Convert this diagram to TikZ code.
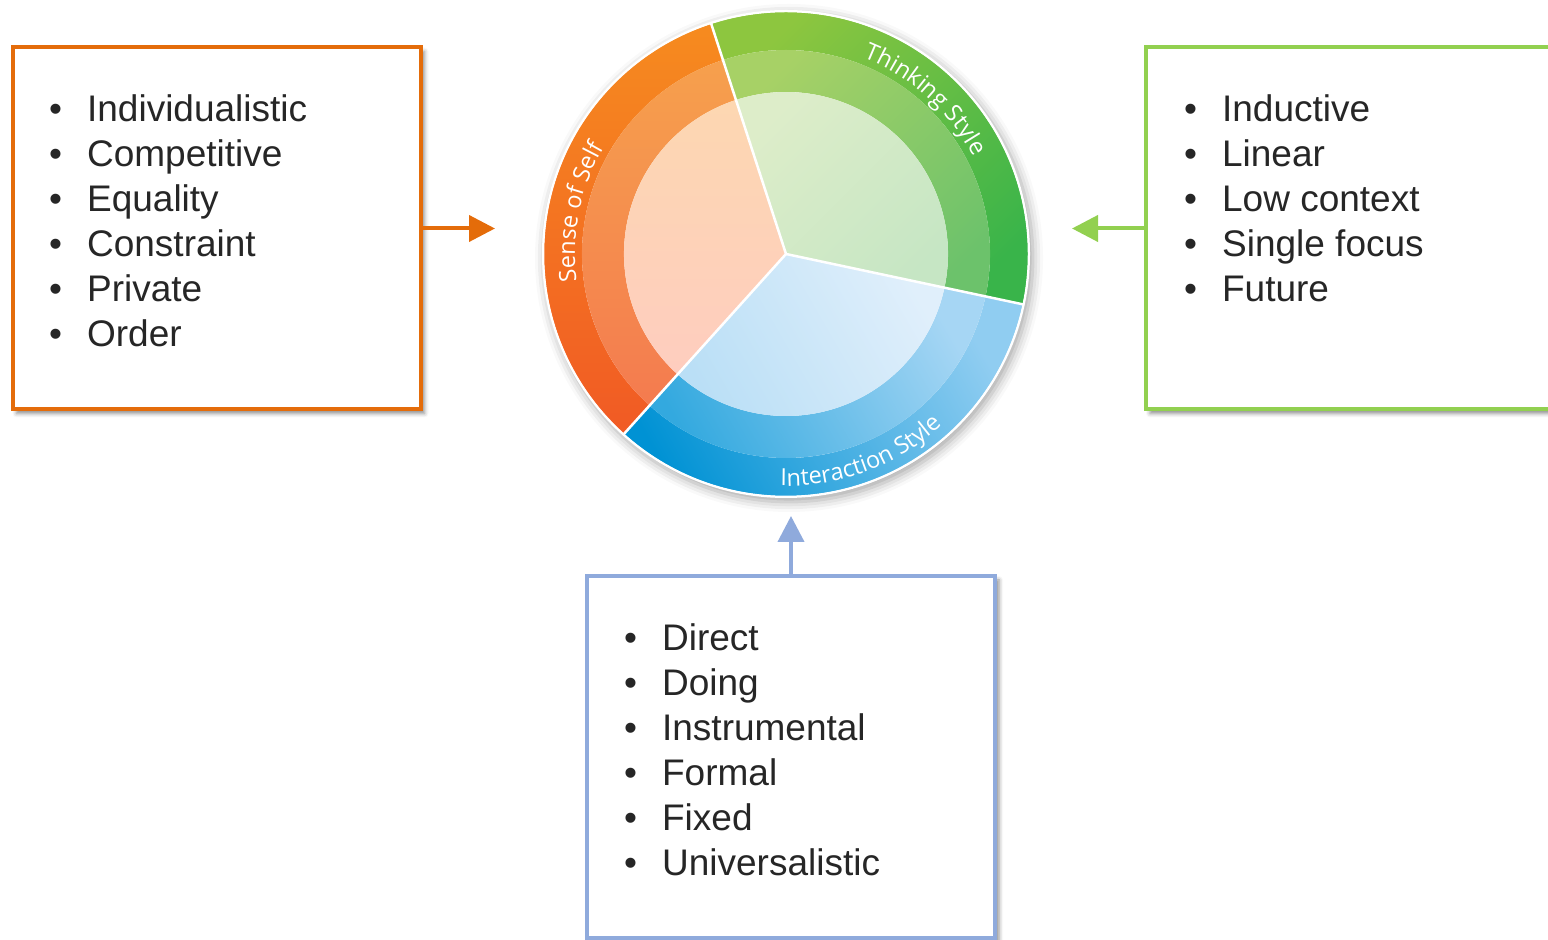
\documentclass[tikz,border=0pt]{standalone}
\usepackage{fontspec}
\setmainfont{Liberation Sans}
\newfontfamily\wheelfont{Open Sans}
\usetikzlibrary{arrows.meta,shadows.blur,decorations.text,positioning}

\definecolor{selforange}{HTML}{E46C0A}
\definecolor{thinkgreen}{HTML}{92D050}
\definecolor{talkblue}{HTML}{8FAADC}
\definecolor{listgray}{HTML}{262626}

\begin{document}
\begin{tikzpicture}[x=1pt, y=1pt,
    listbox/.style={draw=#1, line width=4pt, fill=white,
        minimum width=408pt, minimum height=362pt,
        blur shadow={shadow xshift=4pt, shadow yshift=-4pt,
            shadow blur radius=4pt, shadow opacity=45}},
    listtext/.style={anchor=base west, inner sep=0pt, text=listgray,
        font=\fontsize{37}{45}\selectfont},
    feed/.style={draw=#1, line width=4pt,
        -{Triangle[length=26pt, width=26pt]}},
    rim/.style={line width=2.5pt, white}]
    \clip (0,0) rectangle (1548,940);

    % three boxes
    \node[listbox=selforange] (self) at (216.5, 711.5) {};
    \node[listbox=thinkgreen] (think) at (1350, 711.5) {};
    \node[listbox=talkblue] (talk) at (791, 183) {};

    \node[listtext] (selflist) at (49, 818) {\begin{tabular}[t]{@{}l@{\hspace{25pt}}l@{}}
        \textbullet & Individualistic\\
        \textbullet & Competitive\\
        \textbullet & Equality\\
        \textbullet & Constraint\\
        \textbullet & Private\\
        \textbullet & Order
    \end{tabular}};
    \node[listtext] (thinklist) at (1184, 818) {\begin{tabular}[t]{@{}l@{\hspace{25pt}}l@{}}
        \textbullet & Inductive\\
        \textbullet & Linear\\
        \textbullet & Low context\\
        \textbullet & Single focus\\
        \textbullet & Future
    \end{tabular}};
    \node[listtext] (talklist) at (624, 289) {\begin{tabular}[t]{@{}l@{\hspace{25pt}}l@{}}
        \textbullet & Direct\\
        \textbullet & Doing\\
        \textbullet & Instrumental\\
        \textbullet & Formal\\
        \textbullet & Fixed\\
        \textbullet & Universalistic
    \end{tabular}};

    % the wheel
    \coordinate (wheel) at (786, 686);
    \fill[white, blur shadow={shadow xshift=3pt, shadow yshift=-4pt,
        shadow blur radius=10pt, shadow opacity=35}] (wheel) circle (244);
    \begin{scope}[shift={(wheel)}]
        \shade[top color={rgb,255:red,246;green,139;blue,31}, bottom color={rgb,255:red,241;green,90;blue,36}]
            (108:242) arc[start angle=108, end angle=228, radius=242]
            -- (228:204) arc[start angle=228, end angle=108, radius=204] -- cycle;
        \shade[top color={rgb,255:red,246;green,160;blue,77}, bottom color={rgb,255:red,244;green,123;blue,79}]
            (108:204) arc[start angle=108, end angle=228, radius=204]
            -- (228:162) arc[start angle=228, end angle=108, radius=162] -- cycle;
        \shade[top color={rgb,255:red,253;green,215;blue,177}, bottom color={rgb,255:red,254;green,205;blue,191}]
            (0,0) -- (108:162) arc[start angle=108, end angle=228, radius=162] -- cycle;

        \shade[top color={rgb,255:red,141;green,198;blue,63}, bottom color={rgb,255:red,57;green,180;blue,74}, shading angle=45]
            (-12:242) arc[start angle=-12, end angle=108, radius=242]
            -- (108:204) arc[start angle=108, end angle=-12, radius=204] -- cycle;
        \shade[top color={rgb,255:red,167;green,209;blue,102}, bottom color={rgb,255:red,108;green,194;blue,107}, shading angle=45]
            (-12:204) arc[start angle=-12, end angle=108, radius=204]
            -- (108:162) arc[start angle=108, end angle=-12, radius=162] -- cycle;
        \shade[top color={rgb,255:red,221;green,237;blue,201}, bottom color={rgb,255:red,198;green,230;blue,196}, shading angle=45]
            (0,0) -- (-12:162) arc[start angle=-12, end angle=108, radius=162] -- cycle;

        \shade[top color={rgb,255:red,144;green,205;blue,241}, bottom color={rgb,255:red,0;green,146;blue,212}, shading angle=-60]
            (228:242) arc[start angle=228, end angle=348, radius=242]
            -- (348:204) arc[start angle=348, end angle=228, radius=204] -- cycle;
        \shade[top color={rgb,255:red,166;green,214;blue,244}, bottom color={rgb,255:red,51;green,169;blue,223}, shading angle=-60]
            (228:204) arc[start angle=228, end angle=348, radius=204]
            -- (348:162) arc[start angle=348, end angle=228, radius=162] -- cycle;
        \shade[top color={rgb,255:red,224;green,239;blue,251}, bottom color={rgb,255:red,186;green,223;blue,246}, shading angle=-60]
            (0,0) -- (228:162) arc[start angle=228, end angle=348, radius=162] -- cycle;

        \draw[rim] (0,0) -- (108:243);
        \draw[rim] (0,0) -- (228:243);
        \draw[rim] (0,0) -- (348:243);
        \draw[white, line width=1.5pt] (0,0) circle (242.5);

        \path[decorate, decoration={text along path, text align=center, text color=white,
            text={|\wheelfont\fontsize{23.5}{23.5}\selectfont|Sense of Self}}]
            (200:211) arc[start angle=200, end angle=137, radius=211];
        \path[decorate, decoration={text along path, text align=center, text color=white,
            text={|\wheelfont\fontsize{23.5}{23.5}\selectfont|Thinking Style}}]
            (80:211) arc[start angle=80, end angle=16, radius=211];
        \path[decorate, decoration={text along path, text align=center, text color=white,
            text={|\wheelfont\fontsize{23.5}{23.5}\selectfont|Interaction Style}}]
            (258:232) arc[start angle=258, end angle=323, radius=232];
    \end{scope}

    % arrows into the wheel
    \coordinate (selftip) at (495, 711.5);
    \coordinate (thinktip) at (1072, 711.5);
    \coordinate (talktip) at (791, 424);
    \draw[feed=selforange] (self.east) -- (selftip);
    \draw[feed=thinkgreen] (think.west) -- (thinktip);
    \draw[feed=talkblue] (talk.north) -- (talktip);
\end{tikzpicture}
\end{document}
